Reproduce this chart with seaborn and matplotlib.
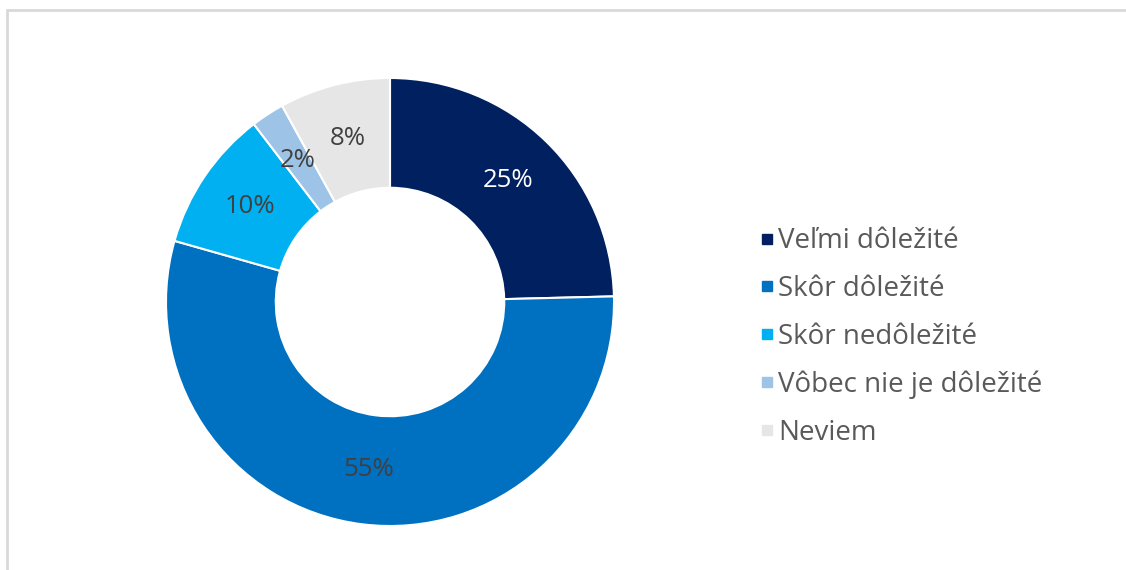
import matplotlib
matplotlib.use("Agg")
import matplotlib.pyplot as plt
import seaborn as sns
from matplotlib.lines import Line2D

sns.set_theme(style="white")
plt.rcParams['font.family'] = ['Open Sans', 'DejaVu Sans']

categories = ['Veľmi dôležité', 'Skôr dôležité', 'Skôr nedôležité', 'Vôbec nie je dôležité', 'Neviem']
values = [24.6, 54.8, 10.2, 2.4, 8.0]
colors = ['#002060', '#0070C0', '#00B0F0', '#9DC3E6', '#E7E6E6']
label_colors = ['white', '#404040', '#404040', '#404040', '#404040']

W, H = 1126, 570
fig = plt.figure(figsize=(W / 100, H / 100), dpi=100)
fig.patch.set_facecolor('white')

# light frame on top and left like the original export
fig.add_artist(Line2D([7 / W, 7 / W], [0, 1 - 10 / H], transform=fig.transFigure, color='#d9d9d9', lw=2))
fig.add_artist(Line2D([7 / W, 1], [1 - 10 / H, 1 - 10 / H], transform=fig.transFigure, color='#d9d9d9', lw=2))

cx, cy, r = 390, H - 302, 224
ax = fig.add_axes([(cx - r) / W, (cy - r) / H, 2 * r / W, 2 * r / H])

wedges, texts, autotexts = ax.pie(
    values, colors=colors, startangle=90, counterclock=False,
    autopct='%1.0f%%', pctdistance=0.755, radius=1,
    wedgeprops=dict(width=0.49, edgecolor='white', linewidth=1.5),
    textprops=dict(fontsize=18.5),
)
for t, c in zip(autotexts, label_colors):
    t.set_color(c)
ax.set_xlim(-1, 1)
ax.set_ylim(-1, 1)
ax.set_aspect('equal')
ax.axis('off')

handles = [Line2D([], [], marker='s', linestyle='none', markersize=7.5, color=c) for c in colors]
leg = fig.legend(handles, categories, loc='center left', bbox_to_anchor=(759 / W, 1 - 337 / H),
                 frameon=False, fontsize=20, labelspacing=0.71, handlelength=0.6,
                 handletextpad=0.08, borderpad=0, borderaxespad=0)
for t in leg.get_texts():
    t.set_color('#595959')

fig.savefig('out.png', dpi=100)
